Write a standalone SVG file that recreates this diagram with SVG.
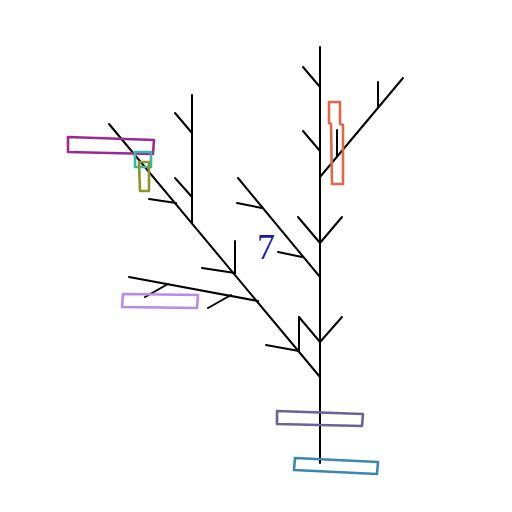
<svg xmlns="http://www.w3.org/2000/svg" width="512" height="512" viewBox="0 0 512 512">
<style>
.b{stroke:#000;stroke-width:2;stroke-linecap:round;fill:none}
.r{fill:none;stroke-width:2.6;stroke-linejoin:round}
</style>
<rect width="512" height="512" fill="#fff"/>
<g id="connectors">
<line class="b" x1="320" y1="463" x2="320" y2="47"/>
<line class="b" x1="320" y1="87" x2="303" y2="67"/>
<line class="b" x1="320" y1="151" x2="303" y2="131"/>
<line class="b" x1="320" y1="177" x2="403" y2="78"/>
<line class="b" x1="378" y1="107" x2="378" y2="82"/>
<line class="b" x1="337" y1="156" x2="337" y2="130"/>
<line class="b" x1="320" y1="243" x2="298" y2="217"/>
<line class="b" x1="320" y1="243" x2="342" y2="217"/>
<line class="b" x1="320" y1="277" x2="238" y2="178"/>
<line class="b" x1="302" y1="257" x2="278" y2="252"/>
<line class="b" x1="262" y1="208" x2="237" y2="203"/>
<line class="b" x1="320" y1="342" x2="299" y2="317"/>
<line class="b" x1="320" y1="342" x2="342" y2="317"/>
<line class="b" x1="320" y1="377" x2="109" y2="124"/>
<line class="b" x1="299" y1="351" x2="299" y2="317"/>
<line class="b" x1="299" y1="351" x2="266" y2="345"/>
<line class="b" x1="258" y1="301" x2="129" y2="277"/>
<line class="b" x1="168" y1="284" x2="145" y2="297"/>
<line class="b" x1="231" y1="295" x2="208" y2="308"/>
<line class="b" x1="235" y1="273" x2="235" y2="241"/>
<line class="b" x1="235" y1="273" x2="202" y2="268"/>
<line class="b" x1="192" y1="223" x2="192" y2="95"/>
<line class="b" x1="192" y1="197" x2="175" y2="178"/>
<line class="b" x1="192" y1="133" x2="175" y2="113"/>
<line class="b" x1="176" y1="203" x2="149" y2="199"/>
</g>
<g id="label7">
<text x="266" y="259" font-family="Liberation Serif, serif" font-size="36" fill="#1a1aa6" text-anchor="middle">7</text>
</g>
<g id="box-orange">
<polygon class="r" stroke="#e0684a" points="329,102 340,102 340,124 343,125 343,184 332,184 331,124 329,123"/>
</g>
<g id="box-purple">
<polygon class="r" stroke="#9a2a8e" points="68,137 154,140 153,154 68,152"/>
</g>
<g id="box-teal">
<polygon class="r" stroke="#3bb5b0" points="135,152 151,152 151,167 135,167"/>
</g>
<g id="box-olive">
<polygon class="r" stroke="#8a962a" points="139,162 149,162 149,191 140,191"/>
</g>
<g id="box-lavender">
<polygon class="r" stroke="#b98be8" points="123,294 198,295 197,308 122,307"/>
</g>
<g id="box-slate">
<polygon class="r" stroke="#6a6496" points="277,411 363,414 362,426 277,424"/>
</g>
<g id="box-blue">
<polygon class="r" stroke="#3a88b0" points="295,458 378,462 377,474 294,470"/>
</g>
</svg>
